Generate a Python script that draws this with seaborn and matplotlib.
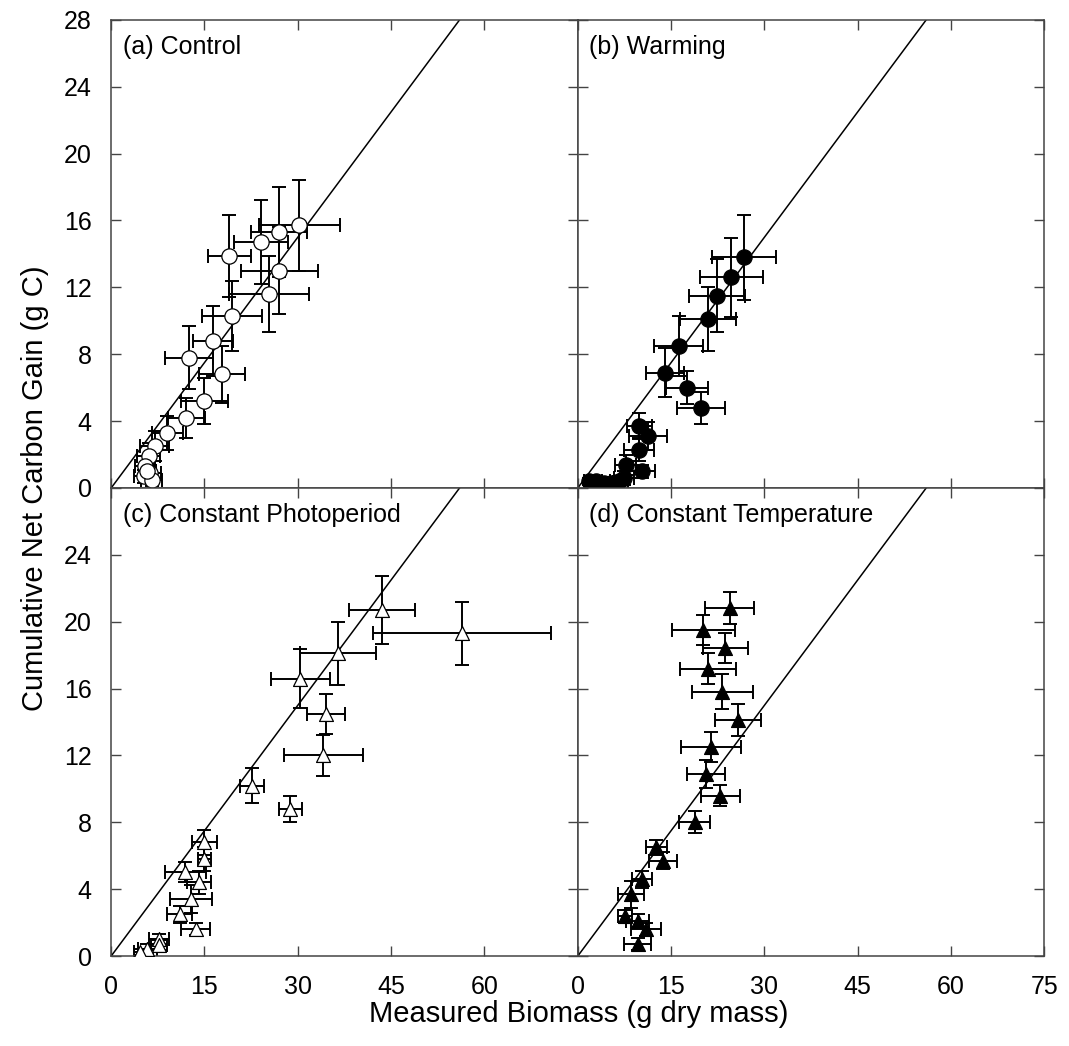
import numpy as np
import pandas as pd
import matplotlib
matplotlib.use("Agg")
import matplotlib.pyplot as plt
import seaborn as sns

# ---------------- data ----------------
control_x = [30.2, 26.9, 24.1, 19.0, 27.0, 25.4, 19.4, 16.4, 12.5, 17.8, 15.0, 12.1, 9.0, 7.0, 6.0, 5.4, 6.2, 5.2, 6.5, 5.8]
control_y = [15.7, 15.3, 14.7, 13.9, 13.0, 11.6, 10.3, 8.8, 7.8, 6.8, 5.2, 4.2, 3.3, 2.5, 1.9, 1.3, 0.9, 0.7, 0.5, 1.0]
control_xerr = [6.5, 4.5, 4.3, 3.5, 6.2, 6.4, 4.8, 3.2, 3.8, 3.7, 3.8, 3.0, 2.5, 2.3, 1.8, 1.6, 1.8, 1.5, 1.7, 1.4]
control_yerr = [2.7, 2.7, 2.5, 2.45, 2.6, 2.3, 2.1, 2.1, 1.9, 1.7, 1.4, 1.2, 1.0, 0.9, 0.8, 0.6, 0.5, 0.4, 0.4, 0.5]

warming_x = [26.7, 24.7, 22.3, 21.0, 16.2, 14.0, 17.5, 19.8, 9.9, 11.3, 9.8, 7.7, 10.3, 2.9, 4.2, 5.3, 6.6, 7.4, 1.8, 3.6]
warming_y = [13.8, 12.6, 11.5, 10.1, 8.5, 6.9, 6.0, 4.8, 3.7, 3.1, 2.3, 1.4, 1.0, 0.4, 0.3, 0.3, 0.4, 0.6, 0.4, 0.2]
warming_xerr = [5.1, 5.1, 4.5, 4.5, 4.0, 3.0, 3.4, 3.8, 2.0, 3.1, 2.4, 1.7, 2.1, 1.0, 1.2, 1.3, 1.5, 1.6, 0.8, 1.0]
warming_yerr = [2.55, 2.35, 2.2, 1.9, 1.8, 1.45, 1.0, 0.95, 0.8, 0.85, 0.7, 0.6, 0.4, 0.2, 0.2, 0.2, 0.3, 0.4, 0.2, 0.2]

photo_x = [43.5, 36.4, 30.4, 34.5, 34.1, 56.4, 22.6, 28.8, 15.0, 15.0, 11.9, 14.1, 12.8, 11.0, 13.6, 7.7, 7.7, 5.8, 4.7]
photo_y = [20.7, 18.1, 16.6, 14.5, 12.0, 19.3, 10.2, 8.8, 6.8, 5.8, 5.0, 4.4, 3.4, 2.5, 1.6, 1.0, 0.65, 0.4, 0.25]
photo_xerr = [5.3, 6.1, 4.7, 3.1, 6.3, 14.3, 1.9, 1.8, 2.0, 1.1, 3.3, 1.9, 3.4, 2.0, 2.3, 1.6, 1.3, 1.5, 1.0]
photo_yerr = [2.05, 1.9, 1.75, 1.2, 1.25, 1.9, 1.05, 0.8, 0.75, 0.7, 0.6, 0.7, 0.85, 0.5, 0.35, 0.3, 0.3, 0.3, 0.2]

temp_x = [24.4, 20.2, 23.7, 20.9, 23.2, 25.7, 21.4, 20.6, 22.9, 18.8, 12.6, 13.7, 10.3, 8.6, 7.6, 9.6, 10.9, 9.6]
temp_y = [20.8, 19.5, 18.4, 17.2, 15.8, 14.1, 12.5, 10.9, 9.6, 8.0, 6.5, 5.7, 4.6, 3.7, 2.4, 2.1, 1.6, 0.7]
temp_xerr = [4.0, 5.0, 3.6, 4.5, 4.9, 3.7, 4.8, 3.0, 3.1, 2.5, 1.7, 2.2, 1.6, 2.1, 1.1, 1.8, 2.4, 2.1]
temp_yerr = [0.95, 0.9, 0.9, 0.9, 1.05, 0.95, 0.9, 0.85, 0.65, 0.65, 0.45, 0.5, 0.5, 0.8, 0.35, 0.4, 0.4, 0.35]

panel_titles = ["(a) Control", "(b) Warming", "(c) Constant Photoperiod", "(d) Constant Temperature"]
x_ticks = [0, 15, 30, 45, 60, 75]
y_ticks = [0, 4, 8, 12, 16, 20, 24, 28]
ref_slope = 0.5
ref_x = [0, 75]

# ---------------- style ----------------
sns.set_theme(style="ticks")
plt.rcParams["font.family"] = ["Liberation Sans", "DejaVu Sans"]
plt.rcParams["axes.edgecolor"] = "#444444"
plt.rcParams["axes.linewidth"] = 1.1
plt.rcParams["text.color"] = "black"

fig, axes = plt.subplots(2, 2, figsize=(10.69, 10.46), dpi=100)
fig.subplots_adjust(left=0.104, right=0.977, bottom=0.086, top=0.981, wspace=0, hspace=0)

panels = [
    (control_x, control_y, control_xerr, control_yerr, "o", "white", 11),
    (warming_x, warming_y, warming_xerr, warming_yerr, "o", "black", 11),
    (photo_x, photo_y, photo_xerr, photo_yerr, "^", "white", 10),
    (temp_x, temp_y, temp_xerr, temp_yerr, "^", "black", 10),
]

for i, (ax, (xs, ys, xe, ye, mk, fc, ms)) in enumerate(zip(axes.flat, panels)):
    df = pd.DataFrame({"x": xs, "y": ys})
    line_df = pd.DataFrame({"x": ref_x, "y": [ref_slope * v for v in ref_x]})
    sns.lineplot(data=line_df, x="x", y="y", ax=ax, color="black", linewidth=1.1, zorder=1)
    ax.errorbar(xs, ys, xerr=xe, yerr=ye, fmt="none", ecolor="black",
                elinewidth=1.4, capsize=5, capthick=1.4, zorder=2)
    sns.scatterplot(data=df, x="x", y="y", ax=ax, marker=mk, s=ms ** 2,
                    facecolor=fc, edgecolor="black", linewidth=0.9, zorder=3)
    ax.set_xlim(0, 75)
    ax.set_ylim(0, 28)
    ax.set_xticks(x_ticks)
    ax.set_yticks(y_ticks)
    ax.set_xlabel("")
    ax.set_ylabel("")
    ax.tick_params(direction="in", length=7, width=1.0, color="#444444",
                   top=True, right=True, labelsize=18, labelcolor="black")
    ax.tick_params(axis="x", pad=14)
    ax.tick_params(axis="y", pad=14)
    ax.text(0.025, 0.942, panel_titles[i], transform=ax.transAxes,
            fontsize=18, va="center", ha="left", color="black")
    for s in ax.spines.values():
        s.set_visible(True)

# tick label visibility
for ax in axes[0, :]:
    ax.set_xticklabels([])
for ax in axes[:, 1]:
    ax.set_yticklabels([])
axes[1, 0].set_xticklabels([str(t) if t != 75 else "" for t in x_ticks])
axes[1, 1].set_xticklabels([str(t) for t in x_ticks])
axes[1, 0].set_yticklabels([str(t) if t != 28 else "" for t in y_ticks])
axes[0, 0].set_yticklabels([str(t) for t in y_ticks])

fig.text(0.541, 0.031, "Measured Biomass (g dry mass)", ha="center", va="center", fontsize=21)
fig.text(0.033, 0.533, "Cumulative Net Carbon Gain (g C)", ha="center", va="center",
         rotation=90, fontsize=21)

fig.savefig("out.png", dpi=100, facecolor="white")
